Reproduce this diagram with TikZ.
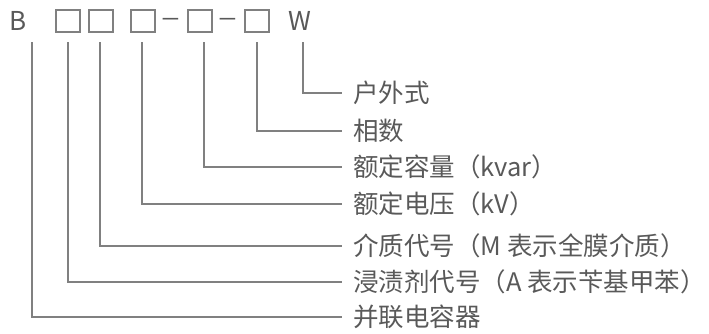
\documentclass[tikz,border=0pt]{standalone}
\usepackage{fontspec}
\setmainfont{Noto Sans CJK SC}
\definecolor{txtgray}{HTML}{595959}
\definecolor{linegray}{HTML}{808080}
\definecolor{boxgray}{HTML}{808080}
\begin{document}
\begin{tikzpicture}[x=1pt,y=-1pt,
  lbl/.style={anchor=west,inner sep=0pt,text=txtgray,font=\fontsize{25.5}{25.5}\selectfont},
  conn/.style={draw=linegray,line width=1.3pt,shorten >=11pt},
  codebox/.style={draw=boxgray,line width=1.2pt,minimum width=24pt,minimum height=22pt,inner sep=0pt},
  code/.style={text=txtgray,font=\fontsize{26}{26}\selectfont,inner sep=0pt}]
\useasboundingbox (0,0) rectangle (709,333);
% code row
\node[code] (B) at (18,21) {B};
\node[codebox] (b1) at (68,21) {};
\node[codebox] (b2) at (101,21) {};
\node[codebox] (b3) at (143,21) {};
\node[code] (d1) at (171,22) {\scalebox{1.35}[1]{–}};
\node[codebox] (b4) at (200,21) {};
\node[code] (d2) at (228,22) {\scalebox{1.35}[1]{–}};
\node[codebox] (b5) at (257,21) {};
\node[code] (W) at (300,21) {W};
% top ends of connectors
\coordinate (t1) at (32,42);
\coordinate (t2) at (68,42);
\coordinate (t3) at (100,42);
\coordinate (t4) at (142,42);
\coordinate (t5) at (204,42);
\coordinate (t6) at (257,42);
\coordinate (t7) at (303,42);
% labels
\node[lbl] (l7) at (353,93) {户外式};
\node[lbl] (l6) at (353,131) {相数};
\node[lbl] (l5) at (353,167) {额定容量（kvar）};
\node[lbl] (l4) at (353,204) {额定电压（kV）};
\node[lbl] (l3) at (353,246) {介质代号（M 表示全膜介质）};
\node[lbl] (l2) at (353,282) {浸渍剂代号（A 表示苄基甲苯{\addfontfeature{RawFeature=+halt}）}};
\node[lbl] (l1) at (353,317) {并联电容器};
% connectors
\draw[conn] (t7) |- (l7.west);
\draw[conn] (t6) |- (l6.west);
\draw[conn] (t5) |- (l5.west);
\draw[conn] (t4) |- (l4.west);
\draw[conn] (t3) |- (l3.west);
\draw[conn] (t2) |- (l2.west);
\draw[conn] (t1) |- (l1.west);
\end{tikzpicture}
\end{document}
